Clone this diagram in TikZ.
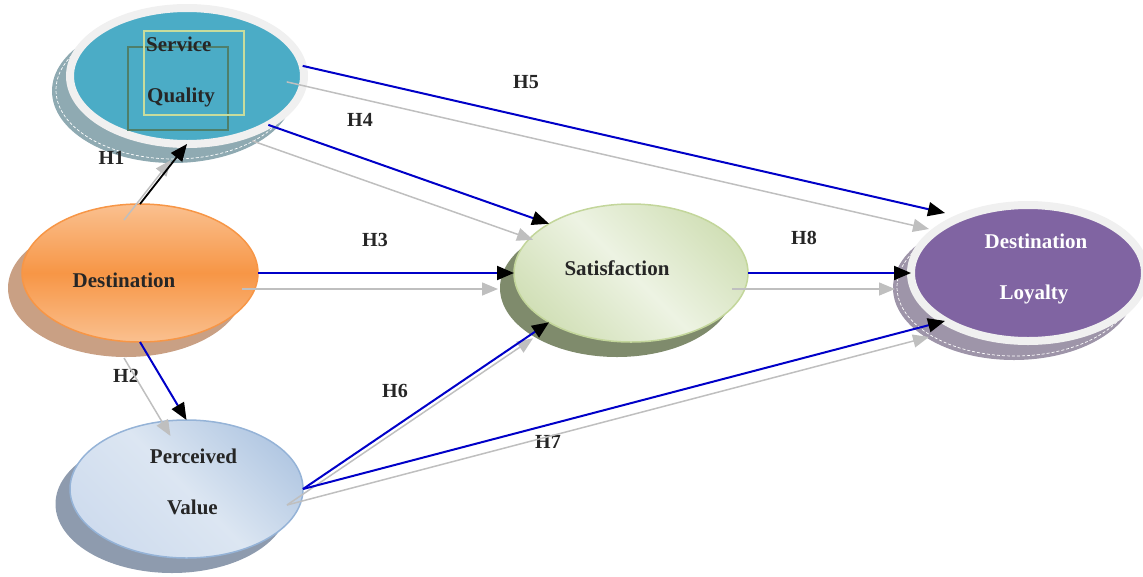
\documentclass[tikz,border=0pt]{standalone}
\usepackage{fontspec}
\setmainfont{Liberation Serif}
\usetikzlibrary{shapes.geometric,arrows.meta}
\definecolor{teal1}{HTML}{4BACC6}
\definecolor{ringc}{HTML}{F0F0F0}
\definecolor{sqshadow}{HTML}{8FAAB2}
\definecolor{orD}{HTML}{F79646}
\definecolor{orL}{HTML}{FAC08F}
\definecolor{orshadow}{HTML}{C9A084}
\definecolor{pvL}{HTML}{DCE6F2}
\definecolor{pvM}{HTML}{CFDCEE}
\definecolor{pvD}{HTML}{B4C9E3}
\definecolor{pvB}{HTML}{95B3D7}
\definecolor{pvshadow}{HTML}{8E9BAE}
\definecolor{satL}{HTML}{EDF3E3}
\definecolor{satD}{HTML}{D2E0B8}
\definecolor{satB}{HTML}{C3D69B}
\definecolor{satshadow}{HTML}{7F8B6C}
\definecolor{purp}{HTML}{8064A2}
\definecolor{loyshadow}{HTML}{9E95A9}
\definecolor{sqgreen}{HTML}{4E7F6B}
\definecolor{sqlight}{HTML}{C8DC9C}
\definecolor{lineblue}{RGB}{0,0,200}
\definecolor{lgray}{HTML}{BFBFBF}
\definecolor{txt}{HTML}{262626}
\begin{document}
\begin{tikzpicture}[x=1pt,y=-1pt,
  ell/.style={ellipse, inner sep=0pt, outer sep=0pt},
  shad/.style={ell, minimum width=242pt, minimum height=144pt},
  dashring/.style={ell, draw=white, line width=0.7pt, dash pattern=on 3pt off 2pt, minimum width=236pt, minimum height=138pt},
  ntext/.style={font=\fontsize{21}{25}\selectfont\bfseries, text=txt, inner sep=0pt, anchor=base},
  lbl/.style={font=\fontsize{20}{24}\selectfont\bfseries, text=txt, inner sep=0pt, anchor=base},
  blueA/.style={draw=lineblue, line width=2pt, -{Triangle[length=17pt,width=14pt,color=black]}},
  blackA/.style={draw=black, line width=1.8pt, -{Triangle[length=17pt,width=14pt,color=black]}},
  grayA/.style={draw=lgray, line width=1.5pt, -{Triangle[length=16pt,width=13pt,color=lgray]},
    transform canvas={xshift=-16pt,yshift=-16pt}}
]
\useasboundingbox (0,0) rectangle (1143,576);
% shadows
\node[shad, fill=sqshadow] (sqsh) at (173,91) {};
\node[dashring] (sqdash) at (174,90) {};
\node[shad, fill=orshadow, minimum width=236pt, minimum height=138pt] (destsh) at (126,288) {};
\node[shad, fill=pvshadow, minimum width=233pt, minimum height=138pt] (pvsh) at (172,504) {};
\node[shad, fill=satshadow, minimum width=234pt, minimum height=138pt] (satsh) at (617,288) {};
\node[shad, fill=loyshadow] (loysh) at (1014,288) {};
\node[dashring] (loydash) at (1015,287) {};
% main ellipses
\node[ell, fill=teal1, draw=ringc, line width=8pt, minimum width=234pt, minimum height=136pt] (sq) at (187,76) {};
\node[ell, draw=orD, line width=1.5pt, top color=orL, bottom color=orL, middle color=orD, minimum width=236pt, minimum height=138pt] (dest) at (140,273) {};
\node[ell, draw=pvB, line width=1.5pt, top color=pvD, bottom color=pvM, middle color=pvL, shading angle=-45, minimum width=233pt, minimum height=138pt] (pv) at (186.5,489) {};
\node[ell, draw=satB, line width=1.5pt, top color=satD, bottom color=satD, middle color=satL, shading angle=-45, minimum width=234pt, minimum height=138pt] (sat) at (631,273) {};
\node[ell, fill=purp, draw=ringc, line width=8pt, minimum width=234pt, minimum height=136pt] (loy) at (1028,273) {};
% squares in service quality
\draw[sqgreen, line width=2.5pt] (128,47) rectangle (228,130);
\draw[sqlight, line width=2.5pt] (144,31) rectangle (244,115);
% texts
\node[ntext, anchor=base west] (sqt1) at (146,51) {Service};
\node[ntext, anchor=base west] (sqt2) at (147,102) {Quality};
\node[ntext] (destt) at (124,287) {Destination};
\node[ntext] (pvt1) at (193.5,463) {Perceived};
\node[ntext] (pvt2) at (192.5,514) {Value};
\node[ntext] (satt) at (617,275) {Satisfaction};
\node[ntext, text=white] (loyt1) at (1036,248) {Destination};
\node[ntext, text=white] (loyt2) at (1034,299) {Loyalty};
% labels
\node[lbl] (h1) at (111.5,164) {H1};
\node[lbl] (h2) at (126,382) {H2};
\node[lbl] (h3) at (375,246) {H3};
\node[lbl] (h4) at (360,126) {H4};
\node[lbl] (h5) at (526,88) {H5};
\node[lbl] (h6) at (395,397) {H6};
\node[lbl] (h7) at (548,448) {H7};
\node[lbl] (h8) at (804,244) {H8};
\coordinate (h5end) at (945,213);
% gray shadow connectors
\draw[grayA] (dest.north) -- (sq.south);
\draw[grayA] (dest.south) -- (pv.north);
\draw[grayA] (dest.east) -- (sat.west);
\draw[grayA] (sq.-31) -- (sat.149);
\draw[grayA] (sq.5) -- (h5end);
\draw[grayA] (pv.east) -- (sat.211);
\draw[grayA] (pv.east) -- (loy.210);
\draw[grayA] (sat.east) -- (loy.west);
% main connectors
\draw[blackA] (dest.north) -- (sq.south);
\draw[blueA] (dest.south) -- (pv.north);
\draw[blueA] (dest.east) -- (sat.west);
\draw[blueA] (sq.-31) -- (sat.149);
\draw[blueA] (sq.5) -- (h5end);
\draw[blueA] (pv.east) -- (sat.211);
\draw[blueA] (pv.east) -- (loy.210);
\draw[blueA] (sat.east) -- (loy.west);
\end{tikzpicture}
\end{document}
